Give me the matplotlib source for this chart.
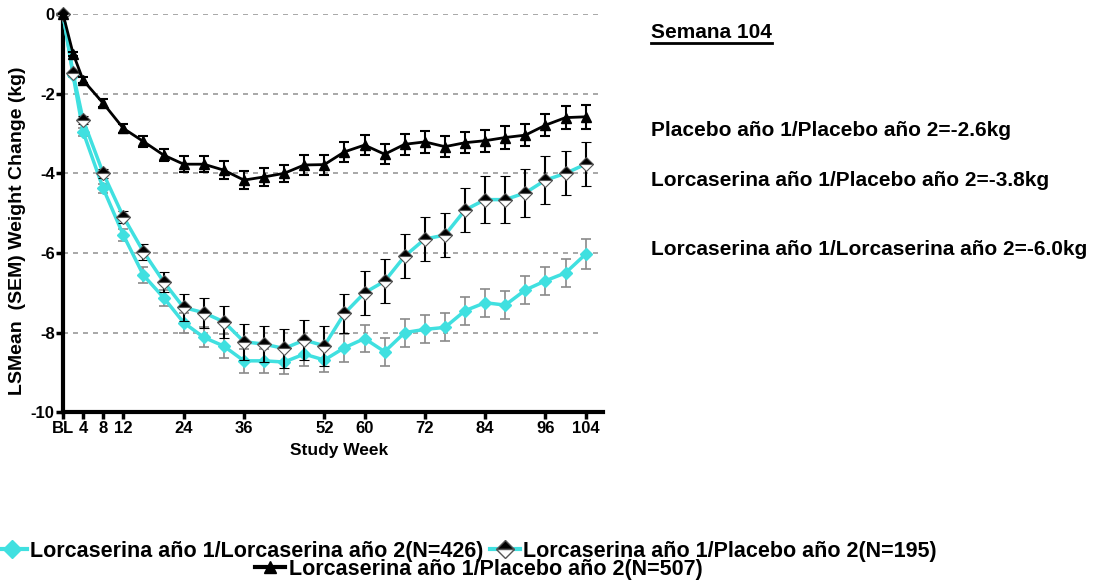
import matplotlib.pyplot as plt
from matplotlib.lines import Line2D

plt.rcParams['font.family'] = ['Liberation Sans', 'DejaVu Sans']
plt.rcParams['font.weight'] = 'bold'

# Study weeks (BL = 0)
weeks = [0, 2, 4, 8, 12, 16, 20, 24, 28, 32, 36, 40, 44, 48, 52,
         56, 60, 64, 68, 72, 76, 80, 84, 88, 92, 96, 100, 104]

# Lorcaserin year 1 / Lorcaserin year 2
lorc_lorc = [0, -1.53, -2.96, -4.38, -5.55, -6.56, -7.12, -7.75, -8.12, -8.34, -8.71, -8.71, -8.74, -8.54, -8.69,
             -8.38, -8.15, -8.48, -8.0, -7.92, -7.87, -7.45, -7.25, -7.31, -6.93, -6.7, -6.5, -6.03]
lorc_lorc_sem = [0, 0.05, 0.1, 0.12, 0.15, 0.2, 0.2, 0.25, 0.25, 0.3, 0.3, 0.3, 0.3, 0.3, 0.3,
                 0.35, 0.35, 0.35, 0.35, 0.35, 0.35, 0.35, 0.35, 0.35, 0.35, 0.35, 0.35, 0.38]

# Lorcaserin year 1 / Placebo year 2
lorc_plac = [0, -1.49, -2.66, -4.0, -5.09, -5.97, -6.72, -7.37, -7.5, -7.73, -8.23, -8.29, -8.4, -8.19, -8.33,
             -7.52, -7.0, -6.71, -6.08, -5.65, -5.55, -4.92, -4.66, -4.66, -4.49, -4.17, -4.0, -3.77]
lorc_plac_sem = [0, 0.05, 0.1, 0.12, 0.15, 0.2, 0.25, 0.35, 0.38, 0.4, 0.45, 0.45, 0.5, 0.5, 0.5,
                 0.5, 0.55, 0.55, 0.55, 0.55, 0.55, 0.55, 0.6, 0.6, 0.6, 0.6, 0.55, 0.55]

# Placebo year 1 / Placebo year 2
plac_plac = [0, -0.99, -1.66, -2.24, -2.87, -3.2, -3.54, -3.77, -3.77, -3.92, -4.17, -4.09, -4.0, -3.79, -3.78,
             -3.46, -3.29, -3.52, -3.27, -3.21, -3.33, -3.23, -3.18, -3.1, -3.04, -2.79, -2.6, -2.58]
plac_plac_sem = [0, 0.05, 0.08, 0.1, 0.12, 0.15, 0.15, 0.2, 0.2, 0.22, 0.22, 0.22, 0.22, 0.25, 0.25,
                 0.25, 0.25, 0.25, 0.27, 0.27, 0.27, 0.27, 0.28, 0.28, 0.28, 0.28, 0.28, 0.3]

tick_pos = [0, 4, 8, 12, 24, 36, 52, 60, 72, 84, 96, 104]
tick_labels = ['BL', '4', '8', '12', '24', '36', '52', '60', '72', '84', '96', '104']

labels = ['Lorcaserina año 1/Lorcaserina año 2(N=426)',
          'Lorcaserina año 1/Placebo año 2(N=195)',
          'Lorcaserina año 1/Placebo año 2(N=507)']

summary = ['Placebo año 1/Placebo año 2=-2.6kg',
           'Lorcaserina año 1/Placebo año 2=-3.8kg',
           'Lorcaserina año 1/Lorcaserina año 2=-6.0kg']

cyan = '#40e0e0'

fig = plt.figure(figsize=(10.98, 5.88), dpi=100)
ax = fig.add_axes([0.0574, 0.299, 0.492, 0.677])

for y in [0, -2, -4, -6, -8]:
    ax.axhline(y, color='#999999', linestyle=(0, (3, 3)), linewidth=1.2, zorder=0)

ax.errorbar(weeks, lorc_lorc, yerr=lorc_lorc_sem, color=cyan, ecolor='#8a8a8a',
            elinewidth=1.2, capsize=3.5, capthick=1.2, linewidth=2.5,
            marker='D', markersize=6, markerfacecolor=cyan, markeredgecolor=cyan,
            clip_on=False, zorder=3)
ax.errorbar(weeks, lorc_plac, yerr=lorc_plac_sem, color=cyan, ecolor='black',
            elinewidth=1.5, capsize=3.5, capthick=1.5, linewidth=2.5,
            marker='D', markersize=7, fillstyle='top', markerfacecolor='black',
            markerfacecoloralt='white', markeredgecolor='#555555', markeredgewidth=0.8,
            clip_on=False, zorder=4)
ax.errorbar(weeks, plac_plac, yerr=plac_plac_sem, color='black', ecolor='black',
            elinewidth=1.5, capsize=3.5, capthick=1.5, linewidth=2,
            marker='^', markersize=6.5, markerfacecolor='black', markeredgecolor='black',
            clip_on=False, zorder=5)

ax.set_xlim(0, 107.5)
ax.set_ylim(-10, 0)
ax.set_xticks(tick_pos)
ax.set_xticklabels(tick_labels)
ax.set_yticks([0, -2, -4, -6, -8, -10])
ax.set_yticklabels(['0', '-2', '-4', '-6', '-8', '-10'])
ax.tick_params(axis='both', labelsize=12, width=2.5, length=5, pad=1)
for side in ['top', 'right']:
    ax.spines[side].set_visible(False)
for side in ['left', 'bottom']:
    ax.spines[side].set_linewidth(3)
ax.set_xlabel('Study Week', fontsize=12.5, fontweight='bold')
ax.set_ylabel('LSMean  (SEM) Weight Change (kg)', fontsize=14, fontweight='bold')
ax.xaxis.set_label_coords(0.511, -0.078)
ax.yaxis.set_label_coords(-0.068, 0.457)

# Right-hand summary
fig.text(651 / 1098, 1 - 33 / 588, 'Semana 104', fontsize=15, fontweight='bold',
         va='center', ha='left')
fig.add_artist(Line2D([651 / 1098, 772 / 1098], [1 - 43 / 588, 1 - 43 / 588],
                      color='black', linewidth=2))
for txt, ypix in zip(summary, [130, 181, 249]):
    fig.text(651 / 1098, 1 - ypix / 588, txt, fontsize=15, fontweight='bold',
             va='center', ha='left')

# Legend (proxy handles without error bars)
p1 = Line2D([], [], color=cyan, linewidth=3, marker='D', markersize=9,
            markerfacecolor=cyan, markeredgecolor=cyan)
p2 = Line2D([], [], color=cyan, linewidth=3, marker='D', markersize=9, fillstyle='top',
            markerfacecolor='black', markerfacecoloralt='white', markeredgecolor='#555555')
p3 = Line2D([], [], color='black', linewidth=3, marker='^', markersize=9,
            markerfacecolor='black', markeredgecolor='black')
fig.legend([p1, p2], labels[:2], loc='center', bbox_to_anchor=(0.425, 1 - 551 / 588),
           ncol=2, frameon=False, fontsize=15.5, handlelength=1.4, handletextpad=0.15,
           columnspacing=0.3, borderpad=0)
fig.legend([p3], labels[2:], loc='center', bbox_to_anchor=(0.436, 1 - 569 / 588),
           frameon=False, fontsize=15.5, handlelength=1.4, handletextpad=0.15, borderpad=0)

fig.savefig('out.png', dpi=100)
